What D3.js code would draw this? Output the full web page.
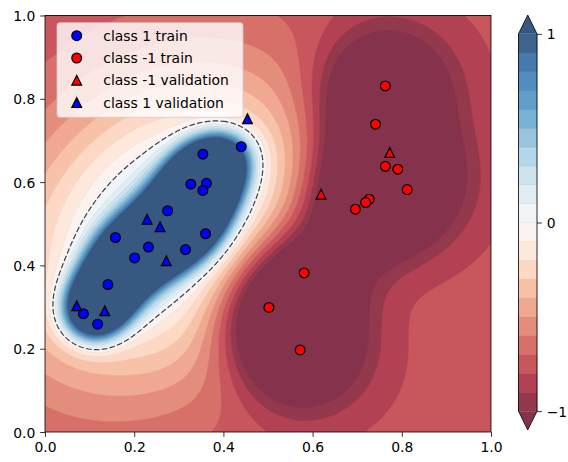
<!DOCTYPE html>
<html>
<head>
<meta charset="utf-8">
<script src="https://cdn.jsdelivr.net/npm/d3@7"></script>
<style>
  body { margin: 0; background: #fff; }
  svg text { font-family: "DejaVu Sans", sans-serif; fill: #000; }
</style>
</head>
<body>
<svg id="chart" width="568" height="462"></svg>
<script>
// ---- samples (x, y) ----
const classOneTrain = [
  [0.440, 0.685], [0.354, 0.667], [0.327, 0.595], [0.362, 0.597], [0.354, 0.580],
  [0.275, 0.531], [0.158, 0.467], [0.360, 0.476], [0.232, 0.444], [0.201, 0.418],
  [0.315, 0.438], [0.141, 0.354], [0.086, 0.284], [0.118, 0.259]
];
const classNegTrain = [
  [0.763, 0.831], [0.741, 0.739], [0.763, 0.638], [0.791, 0.631], [0.812, 0.582],
  [0.727, 0.559], [0.719, 0.551], [0.696, 0.535], [0.581, 0.382], [0.502, 0.299],
  [0.572, 0.197]
];
const classNegVal = [[0.773, 0.671], [0.619, 0.571]];
const classOneVal = [
  [0.454, 0.752], [0.229, 0.511], [0.258, 0.493], [0.272, 0.411], [0.071, 0.303], [0.134, 0.291]
];
const levels = d3.range(21).map(i => Math.round((-1 + i * 0.1) * 10) / 10);
const axisTicks = [0, 0.2, 0.4, 0.6, 0.8, 1.0];
const colorbarTicks = [-1, 0, 1];
const legendLabels = ["class 1 train", "class -1 train", "class -1 validation", "class 1 validation"];

// ---- kernel decision surface built from the training samples ----
const bias = -0.78;
const gammaOne = 60, gammaNeg = 55, gammaTail = 12;
const oneGain = 3.9, onePower = 4.7, tailGain = 1.4, negGain = 1.12;

const sq = (ax, ay, bx, by) => (ax - bx) * (ax - bx) + (ay - by) * (ay - by);
// normalised (Shepard) weights so dense groups do not pile up
const oneWeights = classOneTrain.map(p =>
  1 / d3.sum(classOneTrain, q => Math.exp(-gammaOne * sq(p[0], p[1], q[0], q[1]))));
const negWeights = classNegTrain.map(p =>
  1 / d3.sum(classNegTrain, q => Math.exp(-gammaNeg * sq(p[0], p[1], q[0], q[1]))));

function decision(px, py) {
  let s1 = 0, tail = 0, s2 = 0;
  classOneTrain.forEach((p, i) => {
    const d2 = sq(px, py, p[0], p[1]);
    s1 += oneWeights[i] * Math.exp(-gammaOne * d2);
    tail += Math.exp(-gammaTail * d2);
  });
  tail /= classOneTrain.length;
  classNegTrain.forEach((p, i) => {
    s2 += negWeights[i] * Math.exp(-gammaNeg * sq(px, py, p[0], p[1]));
  });
  return bias + oneGain * Math.pow(s1, onePower) + tailGain * tail - negGain * s2;
}

// ---- RdBu colour map (256-entry lookup), drawn at alpha 0.8 over white ----
const rdbuStops = ["#67001f", "#b2182b", "#d6604d", "#f4a582", "#fddbc7", "#f7f7f7",
                   "#d1e5f0", "#92c5de", "#4393c3", "#2166ac", "#053061"];
const rdbu = d3.scaleLinear().domain(d3.range(11).map(i => i / 10)).range(rdbuStops)
  .interpolate(d3.interpolateRgb);
const lut = u => rdbu(Math.min(255, Math.max(0, Math.floor(u * 256))) / 255);
const faded = c => { const r = d3.rgb(c); return d3.rgb(r.r * 0.8 + 51, r.g * 0.8 + 51, r.b * 0.8 + 51); };
const underColor = faded(lut(0));
const overColor = faded(lut(1));
const bandColor = k => k < levels.length - 1
  ? faded(lut(((levels[k] + levels[k + 1]) / 2 + 1) / 2))
  : overColor;

// ---- layout ----
const plot = { left: 45, right: 491, top: 15.5, bottom: 432 };
const x = d3.scaleLinear([0, 1], [plot.left, plot.right]);
const y = d3.scaleLinear([0, 1], [plot.bottom, plot.top]);
const svg = d3.select("#chart");

svg.append("defs").append("clipPath").attr("id", "plot-clip")
  .append("rect").attr("x", plot.left).attr("y", plot.top)
  .attr("width", plot.right - plot.left).attr("height", plot.bottom - plot.top);

// ---- sample the surface on a grid and contour it ----
const n = 260, lo = -0.02, hi = 1.02, cell = (hi - lo) / n;
const values = new Float64Array(n * n);
for (let j = 0; j < n; j++)
  for (let i = 0; i < n; i++)
    values[j * n + i] = decision(lo + (i + 0.5) * cell, lo + (j + 0.5) * cell);

const toScreen = d3.geoTransform({
  point(cx, cy) { this.stream.point(x(lo + cx * cell), y(lo + cy * cell)); }
});
const contourPath = d3.geoPath(toScreen);
const bands = d3.contours().size([n, n]).thresholds(levels)(values);
const zeroLine = d3.contours().size([n, n]).thresholds([0])(values);

const field = svg.append("g").attr("clip-path", "url(#plot-clip)");
field.append("rect")
  .attr("x", plot.left).attr("y", plot.top)
  .attr("width", plot.right - plot.left).attr("height", plot.bottom - plot.top)
  .attr("fill", underColor);
field.selectAll("path.band").data(bands).join("path")
  .attr("class", "band")
  .attr("d", contourPath)
  .attr("fill", (d, k) => bandColor(k))
  .attr("stroke", (d, k) => d3.rgb(bandColor(k)).darker(0.2))
  .attr("stroke-width", 0.6);
field.append("path").datum(zeroLine[0])
  .attr("d", contourPath)
  .attr("fill", "none")
  .attr("stroke", "#222")
  .attr("stroke-opacity", 0.85)
  .attr("stroke-width", 1.2)
  .attr("stroke-dasharray", "5.5,2.4");

// ---- markers ----
const markerSize = 9.8;
const trianglePath = s => `M0,${-s / 2}L${-s / 2},${s / 2}L${s / 2},${s / 2}Z`;
const marks = svg.append("g");
function circles(data, color) {
  marks.append("g").selectAll("circle").data(data).join("circle")
    .attr("cx", d => x(d[0])).attr("cy", d => y(d[1])).attr("r", markerSize / 2)
    .attr("fill", color).attr("stroke", "#000").attr("stroke-width", 1.2);
}
function triangles(data, color) {
  marks.append("g").selectAll("path").data(data).join("path")
    .attr("transform", d => `translate(${x(d[0])},${y(d[1])})`)
    .attr("d", trianglePath(markerSize))
    .attr("fill", color).attr("stroke", "#000").attr("stroke-width", 1.2);
}
circles(classOneTrain, "#0000ff");
circles(classNegTrain, "#ff0000");
triangles(classNegVal, "#ff0000");
triangles(classOneVal, "#0000ff");

// ---- axes ----
const fontSize = 13.9, tickLen = 4.86;
const styleAxis = g => {
  g.attr("font-size", fontSize).attr("font-family", "DejaVu Sans");
  g.select(".domain").remove();
  g.selectAll("line").attr("stroke", "#000").attr("stroke-width", 0.8);
  g.selectAll("text").attr("fill", "#000");
};
svg.append("g").attr("transform", `translate(0,${plot.bottom})`)
  .call(d3.axisBottom(x).tickValues(axisTicks).tickFormat(d3.format(".1f"))
    .tickSize(tickLen).tickPadding(5).tickSizeOuter(0))
  .call(styleAxis);
svg.append("g").attr("transform", `translate(${plot.left},0)`)
  .call(d3.axisLeft(y).tickValues(axisTicks).tickFormat(d3.format(".1f"))
    .tickSize(tickLen).tickPadding(4.86).tickSizeOuter(0))
  .call(styleAxis)
  .call(g => g.selectAll("text").attr("dy", "0.36em"));
svg.append("rect")
  .attr("x", plot.left).attr("y", plot.top)
  .attr("width", plot.right - plot.left).attr("height", plot.bottom - plot.top)
  .attr("fill", "none").attr("stroke", "#000").attr("stroke-width", 0.8);

// ---- colour bar ----
const cb = { left: 518.5, right: 537, top: 15, bottom: 430 };
const ext = (cb.bottom - cb.top) / 1.1 * 0.05;
const cbY = d3.scaleLinear([-1, 1], [cb.bottom - ext, cb.top + ext]);
const cbMid = (cb.left + cb.right) / 2;
const bar = svg.append("g");
bar.selectAll("rect").data(d3.range(levels.length - 1)).join("rect")
  .attr("x", cb.left).attr("width", cb.right - cb.left)
  .attr("y", k => cbY(levels[k + 1])).attr("height", k => cbY(levels[k]) - cbY(levels[k + 1]))
  .attr("fill", k => bandColor(k))
  .attr("stroke", k => d3.rgb(bandColor(k)).darker(0.2)).attr("stroke-width", 0.5);
bar.append("path")
  .attr("d", `M${cb.left},${cbY(1)}L${cbMid},${cb.top}L${cb.right},${cbY(1)}Z`)
  .attr("fill", overColor);
bar.append("path")
  .attr("d", `M${cb.left},${cbY(-1)}L${cbMid},${cb.bottom}L${cb.right},${cbY(-1)}Z`)
  .attr("fill", underColor);
bar.append("path")
  .attr("d", `M${cb.left},${cbY(1)}L${cbMid},${cb.top}L${cb.right},${cbY(1)}` +
             `L${cb.right},${cbY(-1)}L${cbMid},${cb.bottom}L${cb.left},${cbY(-1)}Z`)
  .attr("fill", "none").attr("stroke", "#000").attr("stroke-width", 0.8);
svg.append("g").attr("transform", `translate(${cb.right},0)`)
  .call(d3.axisRight(cbY).tickValues(colorbarTicks)
    .tickFormat(d => d < 0 ? "\u2212" + Math.abs(d) : String(d))
    .tickSize(tickLen).tickPadding(4.86).tickSizeOuter(0))
  .call(styleAxis)
  .call(g => g.selectAll("text").attr("dy", "0.36em"));

// ---- legend ----
const legend = svg.append("g");
legend.append("rect")
  .attr("x", 57).attr("y", 22.7).attr("width", 186).attr("height", 94.6)
  .attr("rx", 2.8).attr("ry", 2.8)
  .attr("fill", "#fff").attr("fill-opacity", 0.8)
  .attr("stroke", "#cccccc").attr("stroke-opacity", 0.8).attr("stroke-width", 1);
const legendStyles = [
  { shape: "circle", color: "#0000ff" },
  { shape: "circle", color: "#ff0000" },
  { shape: "triangle", color: "#ff0000" },
  { shape: "triangle", color: "#0000ff" }
];
const rowY = k => 35.7 + k * 22.3;
legendLabels.forEach((label, k) => {
  const st = legendStyles[k];
  if (st.shape === "circle") {
    legend.append("circle").attr("cx", 76.7).attr("cy", rowY(k)).attr("r", markerSize / 2)
      .attr("fill", st.color).attr("stroke", "#000").attr("stroke-width", 1.2);
  } else {
    legend.append("path").attr("transform", `translate(76.7,${rowY(k)})`)
      .attr("d", trianglePath(markerSize))
      .attr("fill", st.color).attr("stroke", "#000").attr("stroke-width", 1.2);
  }
  legend.append("text").attr("x", 103.3).attr("y", rowY(k)).attr("dy", "0.36em")
    .attr("font-size", fontSize).text(label);
});
</script>
</body>
</html>
